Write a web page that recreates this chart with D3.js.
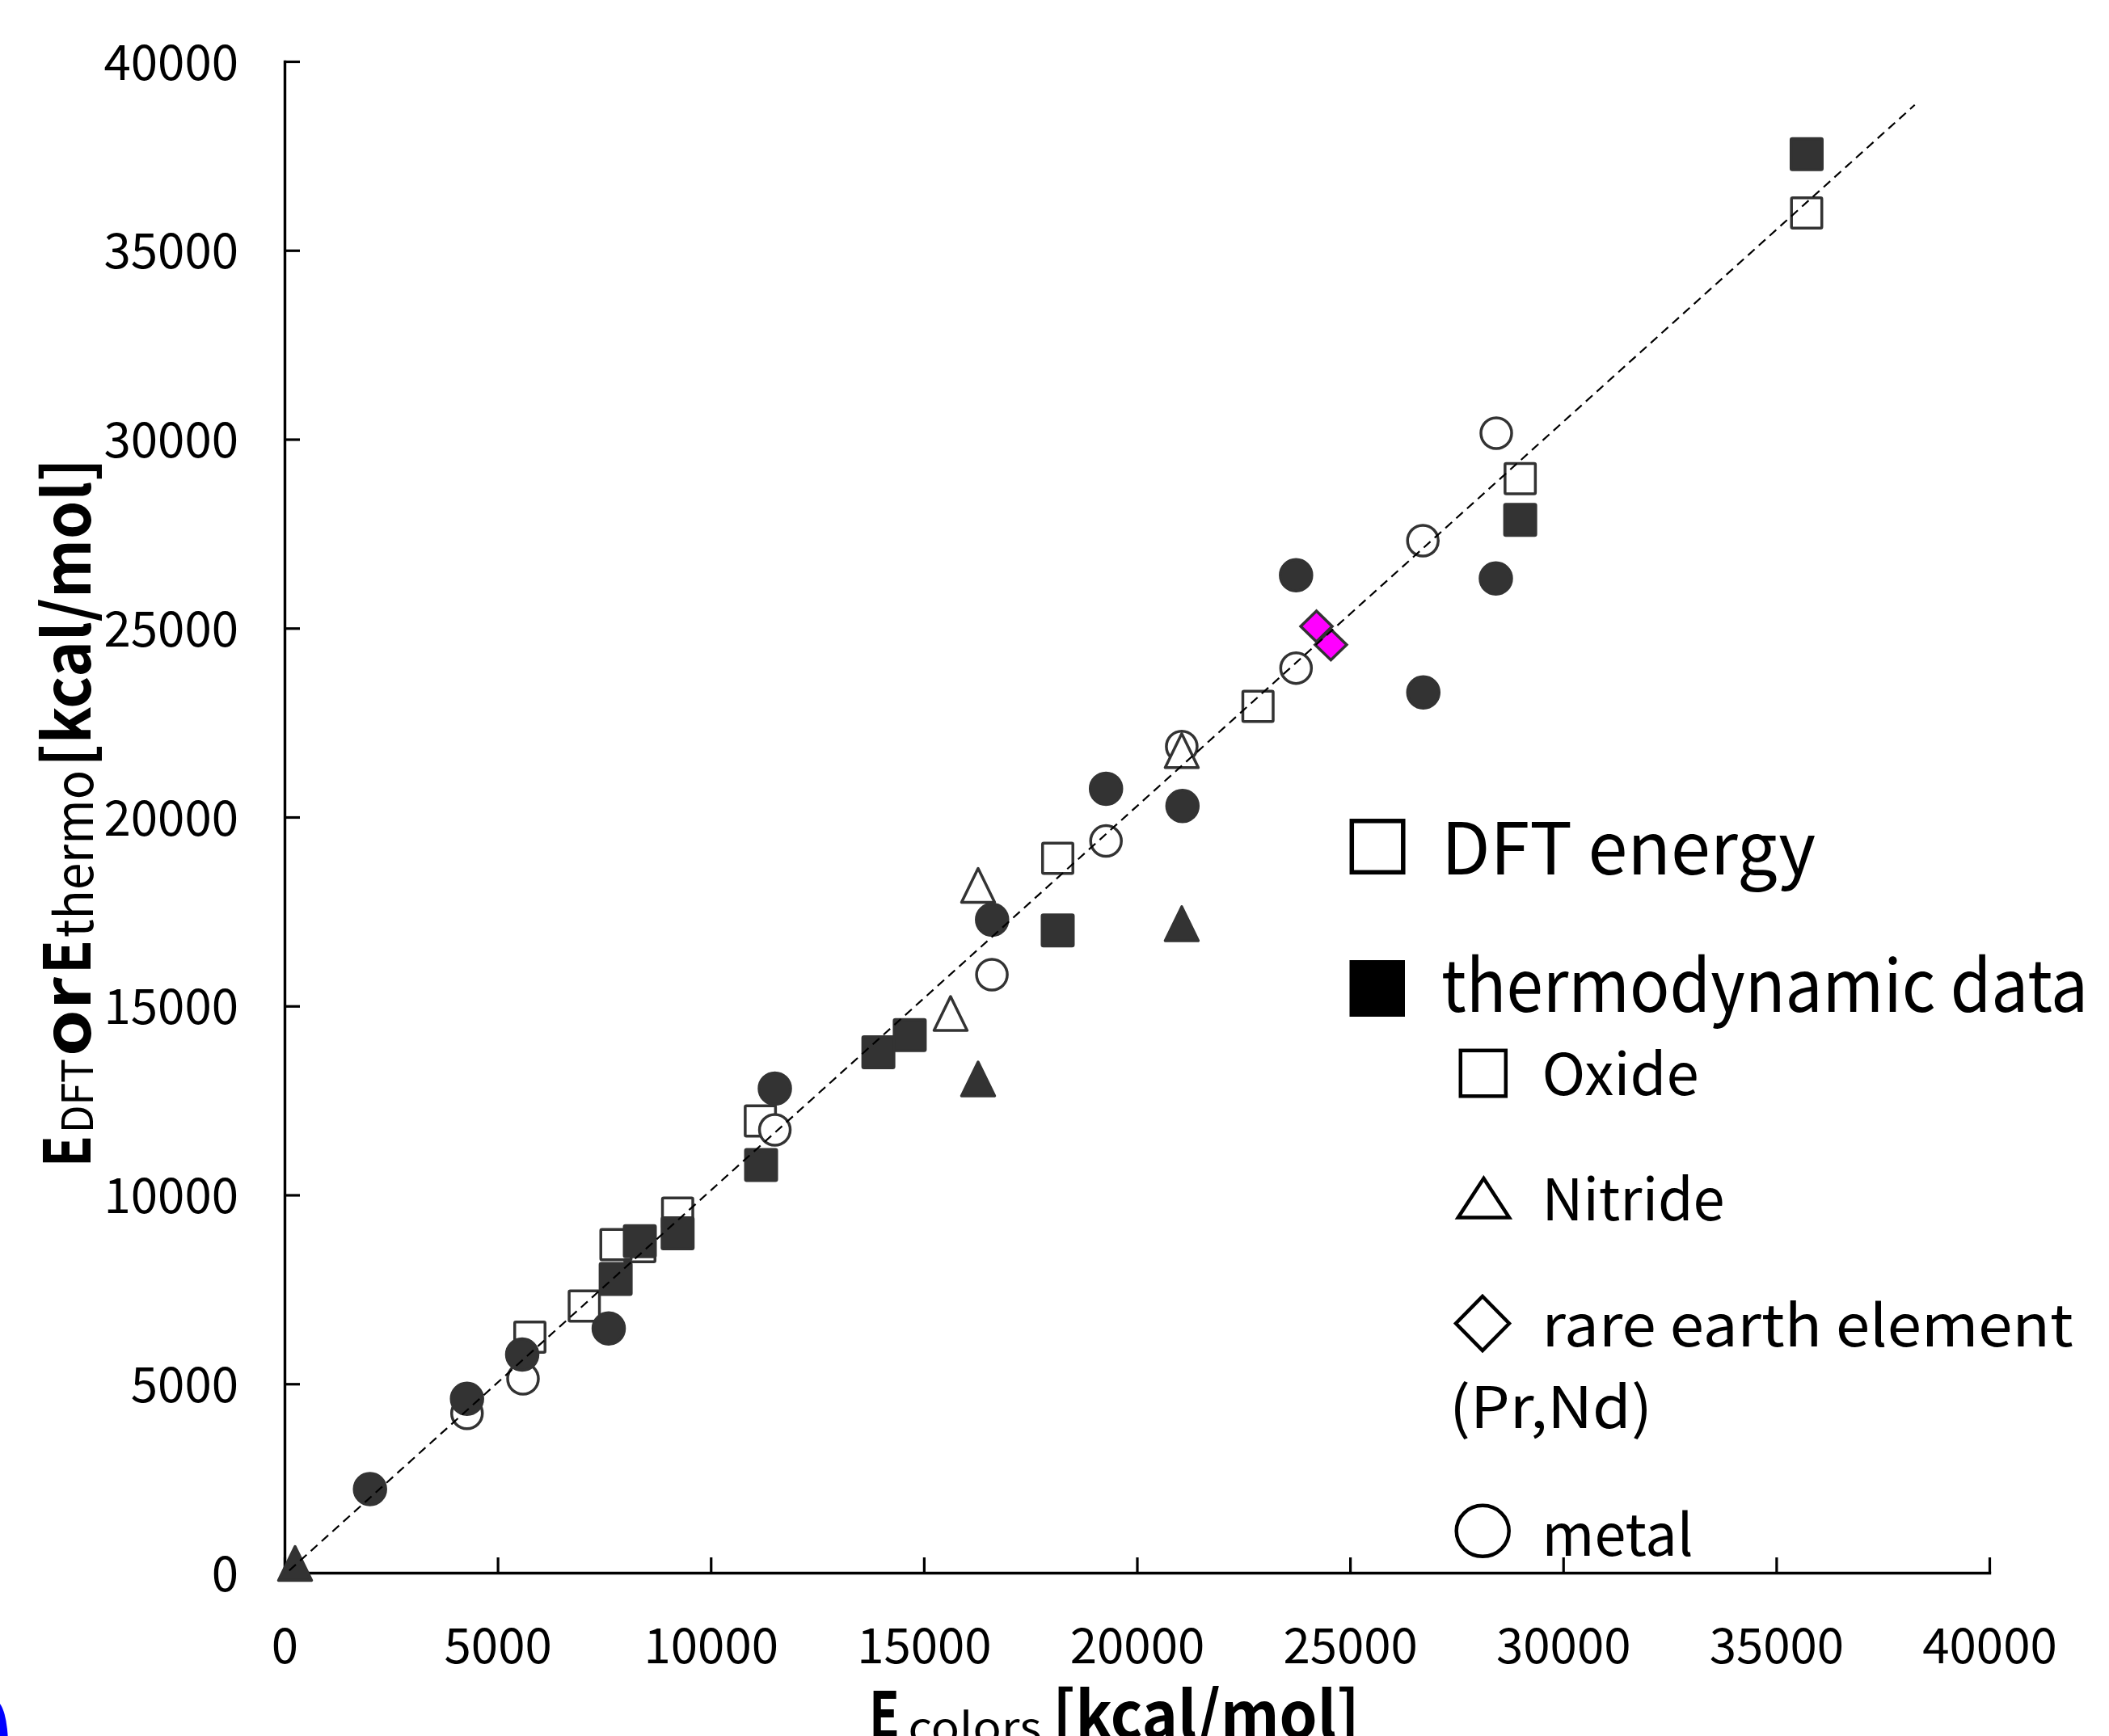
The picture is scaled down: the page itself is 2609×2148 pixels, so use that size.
<!DOCTYPE html>
<html>
<head>
<meta charset="utf-8">
<script src="https://cdn.jsdelivr.net/npm/d3@7"></script>
<style>
  html, body { margin: 0; padding: 0; background: #fff; overflow: hidden; }
  svg { display: block; }
</style>
</head>
<body>
<script>
// ---------------- data (kcal/mol) ----------------
const xTicks = [0, 5000, 10000, 15000, 20000, 25000, 30000, 35000, 40000];
const yTicks = [0, 5000, 10000, 15000, 20000, 25000, 30000, 35000, 40000];

// DFT energy (open markers)
const dftOxideX = [35713, 28992, 22840, 18141, 11164, 9223, 8336, 7776, 7033, 5756];
const dftOxideY = [35987, 28956, 22930, 18909, 11957, 9519, 8633, 8685, 7059, 6235];
// thermodynamic data (filled markers)
const thermoOxideX = [35713, 28992, 18141, 14669, 13933, 11181, 9223, 8336, 7769];
const thermoOxideY = [37544, 27865, 16999, 14229, 13775, 10791, 8984, 8777, 7773];

const dftMetalX = [28431, 26709, 23733, 21051, 19274, 16597, 11504, 5595, 4281];
const dftMetalY = [30160, 27316, 23943, 21867, 19367, 15829, 11722, 5134, 4220];
const thermoMetalX = [23733, 28421, 26719, 19274, 21068, 16601, 11504, 7606, 5576, 4281, 2005];
const thermoMetalY = [26402, 26316, 23301, 20751, 20293, 17283, 12815, 6465, 5775, 4603, 2214];

const dftNitrideX = [21051, 16273, 15627];
const dftNitrideY = [21758, 18193, 14802];
const thermoNitrideX = [21051, 16273, 247];
const thermoNitrideY = [17178, 13070, 246];

const rareEarthX = [24212, 24550];
const rareEarthY = [25048, 24563];

// reference (dashed) line end points
const refLineX = [110, 38250];
const refLineY = [60, 38850];

// texts
const legendMain = ["DFT energy", "thermodynamic data"];
const legendSub = ["Oxide", "Nitride", "rare earth element", "(Pr,Nd)", "metal"];
const yTitleParts = ["E", "DFT", "or", "E", "thermo", "[kcal/mol]"];
const xTitleParts = ["E", "colors", "[kcal/mol]"];

// ---------------- drawing ----------------
const W = 2609, H = 2148;
const FONT = "'Noto Sans CJK JP', 'Noto Sans', sans-serif";
const INK = "#333333";

const svg = d3.select("body").append("svg")
  .attr("width", W).attr("height", H)
  .attr("viewBox", `0 0 ${W} ${H}`);
svg.append("rect").attr("width", W).attr("height", H).attr("fill", "#fff");

const x = d3.scaleLinear().domain([0, 40000]).range([352, 2461]);
const y = d3.scaleLinear().domain([0, 40000]).range([1946, 76]);

// axes
const fmt = d3.format("d");
const gx = svg.append("g").attr("transform", `translate(0,${y(0)})`)
  .call(d3.axisBottom(x).tickValues(xTicks).tickFormat(fmt).tickSizeInner(-19).tickSizeOuter(0));
const gy = svg.append("g").attr("transform", `translate(${x(0)},0)`)
  .call(d3.axisLeft(y).tickValues(yTicks).tickFormat(fmt).tickSizeInner(-19).tickSizeOuter(0).tickPadding(57));

[gx, gy].forEach(g => {
  g.attr("font-family", FONT).attr("font-size", 60);
  g.select(".domain").attr("stroke", "#000").attr("stroke-width", 3.4).attr("stroke-linecap", "square");
  g.selectAll(".tick line").attr("stroke", "#000").attr("stroke-width", 3.2);
  g.selectAll(".tick text").attr("fill", "#000");
});
gx.selectAll(".tick text").attr("y", 112).attr("dy", 0);
gy.selectAll(".tick text").attr("dy", 0).attr("y", 22);

// markers
const toPts = (xs, ys) => xs.map((v, i) => ({ x: v, y: ys[i] }));
const plot = svg.append("g");
const SW = 3.5;

function squares(xs, ys, filled) {
  const s = filled ? 38.5 : 37.5;
  plot.append("g").selectAll("rect").data(toPts(xs, ys)).join("rect")
    .attr("x", d => x(d.x) - s / 2).attr("y", d => y(d.y) - s / 2)
    .attr("width", s).attr("height", s).attr("rx", 1.5)
    .attr("fill", filled ? INK : "#fff").attr("stroke", INK).attr("stroke-width", SW)
    .attr("stroke-linejoin", "round");
}
function circles(xs, ys, filled) {
  plot.append("g").selectAll("circle").data(toPts(xs, ys)).join("circle")
    .attr("cx", d => x(d.x)).attr("cy", d => y(d.y))
    .attr("r", filled ? 19.5 : 19)
    .attr("fill", filled ? INK : "#fff").attr("stroke", INK).attr("stroke-width", SW);
}
function triangles(xs, ys, filled) {
  const w = 41, h = 42;
  plot.append("g").selectAll("path").data(toPts(xs, ys)).join("path")
    .attr("d", d => {
      const cx = x(d.x), cy = y(d.y);
      return `M${cx},${cy - h / 2}L${cx + w / 2},${cy + h / 2}L${cx - w / 2},${cy + h / 2}Z`;
    })
    .attr("fill", filled ? INK : "#fff").attr("stroke", INK).attr("stroke-width", SW)
    .attr("stroke-linejoin", "round");
}
function diamonds(xs, ys) {
  const hw = 19.5, hh = 19;
  plot.append("g").selectAll("path").data(toPts(xs, ys)).join("path")
    .attr("d", d => {
      const cx = x(d.x), cy = y(d.y);
      return `M${cx},${cy - hh}L${cx + hw},${cy}L${cx},${cy + hh}L${cx - hw},${cy}Z`;
    })
    .attr("fill", "#ff00ff").attr("stroke", INK).attr("stroke-width", SW)
    .attr("stroke-linejoin", "miter");
}

squares(dftOxideX, dftOxideY, false);
squares(thermoOxideX, thermoOxideY, true);
circles(dftMetalX, dftMetalY, false);
circles(thermoMetalX, thermoMetalY, true);
triangles(dftNitrideX, dftNitrideY, false);
triangles(thermoNitrideX, thermoNitrideY, true);
diamonds(rareEarthX, rareEarthY);

// dashed reference line
svg.append("path")
  .datum(toPts(refLineX, refLineY))
  .attr("d", d3.line().x(d => x(d.x)).y(d => y(d.y)))
  .attr("fill", "none").attr("stroke", "#000").attr("stroke-width", 2.2)
  .attr("stroke-dasharray", "11,7");

// legend
const lg = svg.append("g").attr("font-family", FONT).attr("fill", "#000");
// main entries
lg.append("rect").attr("x", 1672.3).attr("y", 1015.8).attr("width", 63.5).attr("height", 63.5)
  .attr("fill", "#fff").attr("stroke", "#000").attr("stroke-width", 5.5);
lg.append("rect").attr("x", 1669.5).attr("y", 1188).attr("width", 68.5).attr("height", 70).attr("fill", "#000");
const mainBase = [1082, 1252];
legendMain.forEach((t, i) => {
  lg.append("text").attr("x", 1783).attr("y", mainBase[i]).attr("font-size", 89)
    .attr("textLength", [463, 800][i]).attr("lengthAdjust", "spacingAndGlyphs").text(t);
});
// sub entries
lg.append("rect").attr("x", 1806.8).attr("y", 1299.8).attr("width", 56).attr("height", 56.5)
  .attr("fill", "#fff").attr("stroke", "#000").attr("stroke-width", 4.5);
lg.append("path").attr("d", "M1835.4,1458L1867,1506.4L1803.8,1506.4Z")
  .attr("fill", "#fff").attr("stroke", "#000").attr("stroke-width", 4.5).attr("stroke-linejoin", "miter");
lg.append("path").attr("d", "M1834,1604L1867,1637.5L1834,1671L1801,1637.5Z")
  .attr("fill", "#fff").attr("stroke", "#000").attr("stroke-width", 4.5);
lg.append("ellipse").attr("cx", 1834.2).attr("cy", 1894.3).attr("rx", 32.5).attr("ry", 31.5)
  .attr("fill", "#fff").attr("stroke", "#000").attr("stroke-width", 4.5);
const subX = [1907.6, 1907.6, 1907.6, 1793, 1907.6];
const subBase = [1355.4, 1509.8, 1665.6, 1767, 1925];
const subLen = [194, 226, 657, 251, 187];
legendSub.forEach((t, i) => {
  lg.append("text").attr("x", subX[i]).attr("y", subBase[i]).attr("font-size", 71)
    .attr("textLength", subLen[i]).attr("lengthAdjust", "spacingAndGlyphs").text(t);
});

// y-axis title (rotated)
const yt = svg.append("g").attr("transform", "translate(112,1444) rotate(-90)")
  .attr("font-family", FONT).attr("fill", "#000");
const ytPos = [0, 42, 137, 239, 284, 495];
const ytLen = [39, 92, 98, 42, 207, 382];
const ytSize = [80, 53, 80, 80, 64, 80];
const ytWeight = [700, 400, 700, 700, 400, 700];
const ytDy = [0, 3, 0, 0, 3, 0];
yTitleParts.forEach((t, i) => {
  yt.append("text").attr("x", ytPos[i]).attr("y", ytDy[i])
    .attr("font-size", ytSize[i]).attr("font-weight", ytWeight[i])
    .attr("textLength", ytLen[i]).attr("lengthAdjust", "spacingAndGlyphs").text(t);
});

// x-axis title (cut off at the bottom edge, as in the reference)
const xt = svg.append("g").attr("font-family", FONT).attr("fill", "#000");
const xtPos = [1075, 1123.5, 1302];
const xtLen = [38, 165, 380];
const xtSize = [80, 53, 80];
const xtWeight = [700, 400, 700];
const xtBase = [2151, 2157, 2151];
xTitleParts.forEach((t, i) => {
  xt.append("text").attr("x", xtPos[i]).attr("y", xtBase[i])
    .attr("font-size", xtSize[i]).attr("font-weight", xtWeight[i])
    .attr("textLength", xtLen[i]).attr("lengthAdjust", "spacingAndGlyphs").text(t);
});

// stray blue shape at the lower-left edge of the original image
svg.append("ellipse").attr("cx", -5).attr("cy", 2160).attr("rx", 15).attr("ry", 55).attr("fill", "#0000ff");
</script>
</body>
</html>
